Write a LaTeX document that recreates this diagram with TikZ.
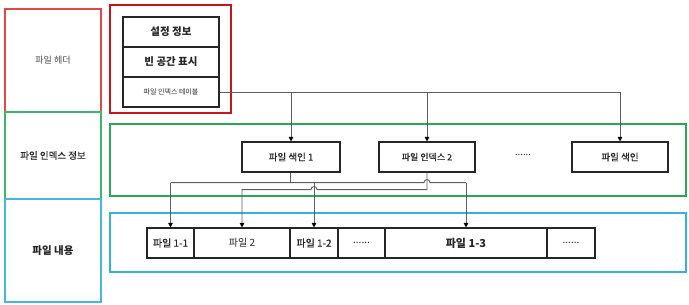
\documentclass[tikz,border=0pt]{standalone}
\usepackage{fontspec}
\setmainfont{Noto Sans CJK KR}
\newfontfamily\medfont[FakeBold=0.3]{Noto Sans CJK KR}
\usetikzlibrary{arrows.meta,calc,positioning}
\definecolor{hdrred}{HTML}{C4161C}
\definecolor{hdrlight}{HTML}{E0474B}
\definecolor{idxgreen}{HTML}{2DA55A}
\definecolor{idxlight}{HTML}{3DB56A}
\definecolor{bodycyan}{HTML}{38B0DE}
\definecolor{bodylight}{HTML}{45B8DE}
\definecolor{txt}{HTML}{262626}
\definecolor{wiregray}{HTML}{5E5E5E}
\newcommand{\sixdots}{......}

\begin{document}
\begin{tikzpicture}[x=1pt, y=-1pt,
  every node/.style={text=txt, inner sep=0pt},
  band/.style={draw, line width=1.3pt, minimum width=96pt},
  frame/.style={draw, line width=1.7pt},
  cell/.style={draw=black!85, line width=1.1pt, minimum height=30pt},
  wire/.style={draw=wiregray, line width=0.9pt},
  tip/.style={-{Triangle[length=4.5pt,width=4.5pt,fill=black,color=black]}}]
\useasboundingbox (0,0) rectangle (689,305);

% left column
\node[band, draw=hdrlight, minimum height=103pt, font=\fontsize{9}{11}\selectfont, text=black!70] (lhead) at (53,60.5) {파일 헤더};
\node[band, draw=idxlight, minimum height=87pt, font=\medfont\fontsize{9.5}{11}\selectfont] (lidx) at (53,155.5) {파일 인덱스 정보};
\node[band, draw=bodylight, minimum height=103pt, font=\bfseries\fontsize{10.5}{12}\selectfont] (lbody) at (53,250.5) {파일 내용};

% containers
\node[frame, draw=hdrred, minimum width=121pt, minimum height=108pt] (hdrbox) at (170.5,59) {};
\node[frame, draw=idxgreen, minimum width=576pt, minimum height=72pt] (idxbox) at (398,160) {};
\node[frame, draw=bodycyan, minimum width=576pt, minimum height=59pt] (bodybox) at (398,242.5) {};

% header stack
\node[cell, minimum width=96pt, font=\bfseries\fontsize{10.5}{12}\selectfont] (conf) at (171,32) {설정 정보};
\node[cell, minimum width=96pt, font=\bfseries\fontsize{10.5}{12}\selectfont] (free) at (171,62) {빈 공간 표시};
\node[cell, minimum width=96pt, font=\fontsize{7}{8}\selectfont] (tbl) at (171,92) {파일 인덱스 테이블};

% index entries
\node[cell, minimum width=98pt, font=\medfont\fontsize{9.5}{11}\selectfont] (ix1) at (291,157) {파일 색인 1};
\node[cell, minimum width=96pt, font=\medfont\fontsize{9}{11}\selectfont] (ix2) at (427,157) {파일 인덱스 2};
\node[font=\fontsize{9.5}{11}\selectfont] (ixdots) at (523,155) {\sixdots};
\node[cell, minimum width=96pt, font=\medfont\fontsize{9.5}{11}\selectfont] (ixn) at (620,157) {파일 색인};

% file content cells
\foreach \n/\x/\w/\f/\s/\t in {f11/170.5/47/\medfont/10/파일 1-1, f2/242/96//10/파일 2,
    f12/314/48/\medfont/10/파일 1-2, fd1/361.5/47//10/\sixdots,
    f13/466/162/\bfseries/11/파일 1-3, fd2/571/48//10/\sixdots} {
  \node[cell, minimum width=\w pt, font=\f\fontsize{\s}{12}\selectfont] (\n) at (\x,243) {\t};
}

% table -> index entries
\draw[wire, tip] (tbl.east) -| (ixn.north);
\draw[wire, tip] (tbl.east -| ix1.north) -- (ix1.north);
\draw[wire, tip] (tbl.east -| ix2.north) -- (ix2.north);

% index entries -> file content
\coordinate (j1) at ($(ix1.south)+(-1,10)$);
\coordinate (j2) at ($(ix2.south)+(0,17)$);
\draw[wire] (ix1.south -| j1) -- (j1);
\draw[wire] (j1 -| f11.north) -- ($(j1 -| ix2.south)+(-3,0)$) arc (180:0:3pt) -- (j1 -| f13.north);
\foreach \f in {f11,f12,f13}
  \draw[wire, tip] (j1 -| \f.north) -- (\f.north);
\draw[wire, tip] (ix2.south) -- (j2) -- ($(j2 -| f12.north)+(3,0)$) arc (0:180:3pt) -- (j2 -| f2.north) -- (f2.north);
\end{tikzpicture}
\end{document}
